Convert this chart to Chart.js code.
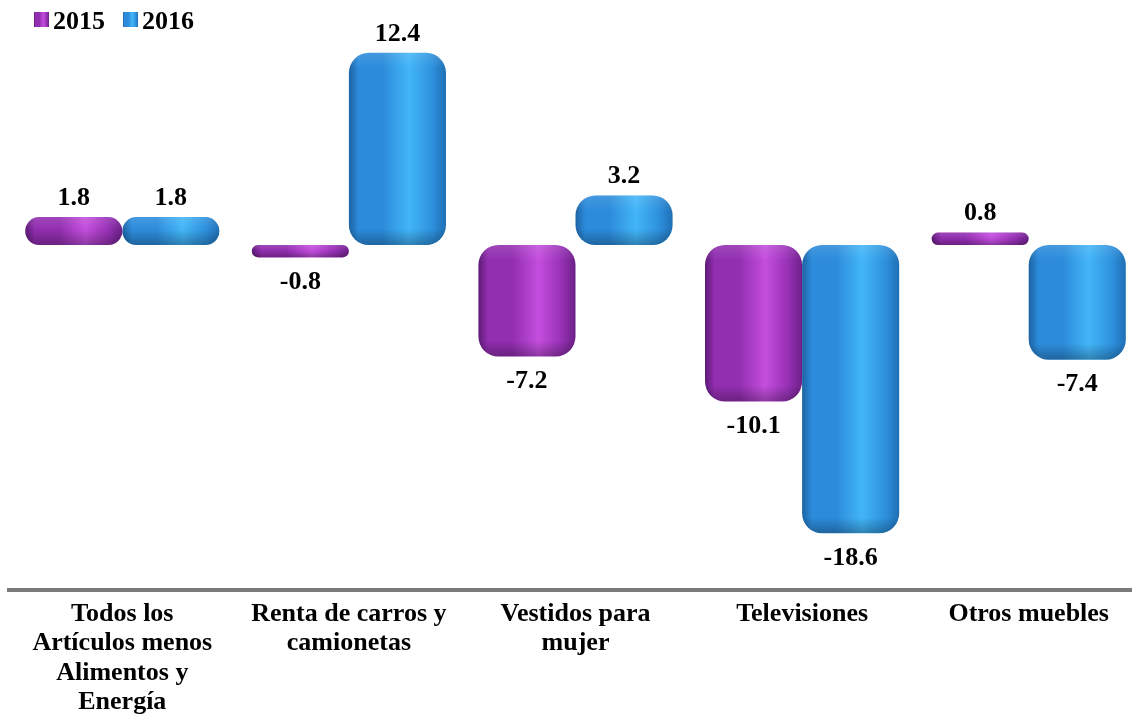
<!DOCTYPE html>
<html>
<head>
<meta charset="utf-8">
<script src="https://cdn.jsdelivr.net/npm/chart.js@4.4.0/dist/chart.umd.min.js"></script>
<style>
  html, body { margin: 0; padding: 0; background: #fff; overflow: hidden; }
  #chart { display: block; }
</style>
</head>
<body>
<canvas id="chart" width="1150" height="719"></canvas>
<script>
const categories = [
  ["Todos los", "Artículos menos", "Alimentos y", "Energía"],
  ["Renta de carros y", "camionetas"],
  ["Vestidos para", "mujer"],
  ["Televisiones"],
  ["Otros muebles"]
];
const seriesNames = ["2015", "2016"];
const values2015 = [1.8, -0.8, -7.2, -10.1, 0.8];
const values2016 = [1.8, 12.4, 3.2, -18.6, -7.4];
const yMin = -22.26;
const yMax = 14;

const serif = '"Liberation Serif", "Times New Roman", serif';

// left edge, body, highlight, right side, right edge
const shades = [
  ["#5e1a78", "#922eb0", "#c44ede", "#9630b4", "#6c2088"],
  ["#1c63a3", "#2c8bdb", "#42b6f7", "#2d90dd", "#1f70b5"]
];

function sideGradient(ctx, x0, x1, s) {
  const g = ctx.createLinearGradient(x0, 0, x1, 0);
  g.addColorStop(0, s[0]);
  g.addColorStop(0.1, s[1]);
  g.addColorStop(0.35, s[1]);
  g.addColorStop(0.62, s[2]);
  g.addColorStop(0.86, s[3]);
  g.addColorStop(1, s[4]);
  return g;
}

function barFill(context) {
  const s = shades[context.datasetIndex] || shades[0];
  const el = context.element;
  if (!el || el.x == null || !el.width) return s[1];
  return sideGradient(context.chart.ctx, el.x - el.width / 2, el.x + el.width / 2, s);
}

// soft shading on the ends of each cylinder
const capShade = {
  id: "capShade",
  afterDatasetsDraw(chart) {
    const ctx = chart.ctx;
    chart.data.datasets.forEach((ds, di) => {
      chart.getDatasetMeta(di).data.forEach(bar => {
        const top = Math.min(bar.y, bar.base);
        const h = Math.abs(bar.base - bar.y);
        const left = bar.x - bar.width / 2;
        const r = Math.min(20, h / 2, bar.width / 2);
        ctx.save();
        ctx.beginPath();
        ctx.roundRect(left, top, bar.width, h, r);
        ctx.clip();
        const g = ctx.createLinearGradient(0, top, 0, top + h);
        const edge = Math.min(0.45, 16 / h);
        g.addColorStop(0, "rgba(255,255,255,0.12)");
        g.addColorStop(edge, "rgba(255,255,255,0)");
        g.addColorStop(Math.max(edge, 1 - 16 / h), "rgba(0,0,0,0)");
        g.addColorStop(1, "rgba(0,0,0,0.28)");
        ctx.fillStyle = g;
        ctx.fillRect(left, top, bar.width, h);
        ctx.restore();
      });
    });
  }
};

const valueLabels = {
  id: "valueLabels",
  afterDatasetsDraw(chart) {
    const ctx = chart.ctx;
    ctx.save();
    ctx.font = "bold 26px " + serif;
    ctx.fillStyle = "#000";
    ctx.textAlign = "center";
    ctx.textBaseline = "middle";
    chart.data.datasets.forEach((ds, di) => {
      chart.getDatasetMeta(di).data.forEach((bar, i) => {
        const v = ds.data[i];
        const y = v >= 0 ? bar.y - 19 : bar.y + 25;
        ctx.fillText(v.toFixed(1), bar.x, y);
      });
    });
    ctx.restore();
  }
};

const legendBoxes = {
  id: "legendBoxes",
  afterDraw(chart) {
    const ctx = chart.ctx;
    ctx.save();
    ctx.font = "bold 26px " + serif;
    ctx.textBaseline = "alphabetic";
    let x = 34;
    chart.data.datasets.forEach((ds, di) => {
      const s = shades[di];
      ctx.fillStyle = sideGradient(ctx, x, x + 15, s);
      ctx.fillRect(x, 12, 15, 15);
      ctx.fillStyle = "#000";
      ctx.fillText(ds.label, x + 19, 29);
      x += 19 + ctx.measureText(ds.label).width + 18;
    });
    ctx.restore();
  }
};

const barStyle = {
  backgroundColor: barFill,
  borderWidth: 0,
  borderRadius: 20,
  borderSkipped: false,
  categoryPercentage: 0.857,
  barPercentage: 1
};

const chart = new Chart(document.getElementById("chart"), {
  type: "bar",
  data: {
    labels: categories,
    datasets: [
      { label: seriesNames[0], data: values2015, ...barStyle },
      { label: seriesNames[1], data: values2016, ...barStyle }
    ]
  },
  options: {
    responsive: false,
    animation: false,
    layout: { padding: { top: 28, left: 9, right: 8, bottom: 0 } },
    plugins: {
      colors: { enabled: false },
      legend: { display: false },
      tooltip: { enabled: false }
    },
    scales: {
      x: {
        grid: { display: false, drawTicks: false },
        border: { display: true, color: "#7a7a7a", width: 4 },
        ticks: {
          autoSkip: false,
          maxRotation: 0,
          minRotation: 0,
          padding: 10,
          color: "#000",
          font: { family: serif, size: 26, weight: "bold", lineHeight: 1.12 }
        },
        afterFit(scale) { scale.height = 129; }
      },
      y: {
        display: false,
        min: yMin,
        max: yMax
      }
    }
  },
  plugins: [capShade, valueLabels, legendBoxes]
});

// second pass so the side gradients know where each bar sits
chart.update();
</script>
</body>
</html>
